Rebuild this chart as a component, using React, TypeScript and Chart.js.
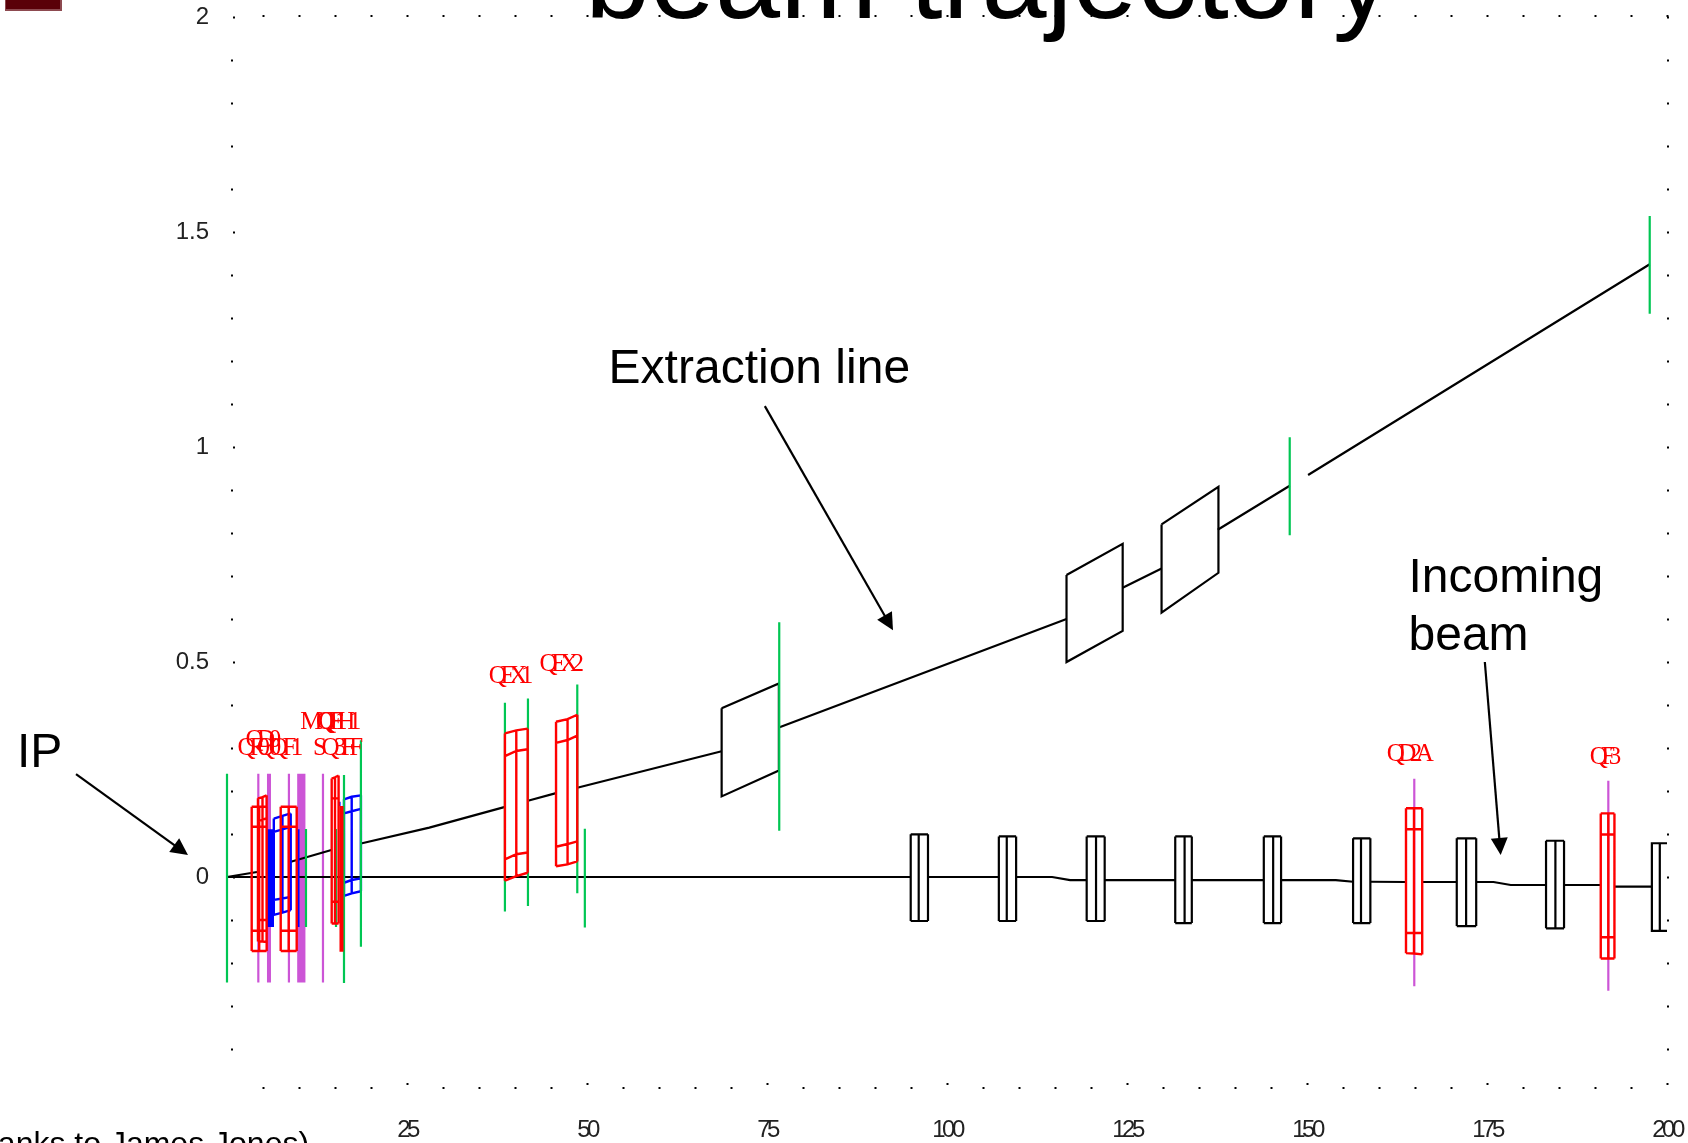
import React, { useEffect, useRef } from "react";
import { Chart, registerables } from "chart.js";

Chart.register(...registerables);

type Pt = [number, number];
type Magnet = { x: number[]; rows: number[][] };

// axis ticks
const xTickValues = [5,10,15,20,25,30,35,40,45,50,55,60,65,70,75,80,85,90,95,100,105,110,115,120,125,130,135,140,145,150,155,160,165,170,175,180,185,190,195,200];
const yTickValues = [-0.4,-0.3,-0.2,-0.1,0,0.1,0.2,0.3,0.4,0.5,0.6,0.7,0.8,0.9,1,1.1,1.2,1.3,1.4,1.5,1.6,1.7,1.8,1.9,2];

// beam lines (s, x in metres)
const extractionLine: Pt[][] = [
  [[0,0],[4.17,0.0116]],
  [[8.75,0.035],[14.5,0.063]],
  [[18.6,0.078],[28.1,0.115],[38.5,0.1625]],
  [[41.8,0.1775],[45.7,0.195]],
  [[48.65,0.2075],[68.7,0.2925]],
  [[76.65,0.3475],[116.6,0.6]],
  [[124.4,0.6725],[129.8,0.7175]],
  [[137.6,0.8075],[147.6,0.91]],
  [[150.15,0.935],[197.6,1.425]],
];
const incomingLine: Pt[][] = [
  [[0,0],[94.96,0]],
  [[97.36,0],[107.2,0]],
  [[109.6,0],[114.6,0],[117.1,-0.007],[119.4,-0.007]],
  [[121.9,-0.007],[131.7,-0.007]],
  [[134,-0.007],[144,-0.007]],
  [[146.4,-0.007],[154,-0.007],[156.4,-0.011]],
  [[158.8,-0.011],[163.75,-0.0116]],
  [[166,-0.0116],[170.8,-0.0116]],
  [[173.5,-0.0116],[175.9,-0.0116],[178.3,-0.0186],[183.2,-0.0186]],
  [[185.7,-0.0186],[190.8,-0.0186]],
  [[192.7,-0.0225],[197.9,-0.0225]],
];

// bend magnets on the extraction line: [s, top, bottom] at each end
const bendMagnets: number[][][] = [
  [[68.7,0.3925,0.1875],[76.65,0.45,0.2475]],
  [[116.6,0.7025,0.5],[124.4,0.775,0.5725]],
  [[129.8,0.82,0.615],[137.7,0.9075,0.7075]],
];

// black two-cell magnets on the incoming line
const blackMagnets: Magnet[] = [
  { x: [94.96,96.07,97.36], rows: [[0.0992,0.0992,0.0992],[-0.1023,-0.1023,-0.1023]] },
  { x: [107.2,108.3,109.6], rows: [[0.0945,0.0945,0.0945],[-0.1023,-0.1023,-0.1023]] },
  { x: [119.4,120.7,121.9], rows: [[0.0945,0.0945,0.0945],[-0.1023,-0.1023,-0.1023]] },
  { x: [131.7,133,134], rows: [[0.0945,0.0945,0.0945],[-0.107,-0.107,-0.107]] },
  { x: [144,145.3,146.4], rows: [[0.0945,0.0945,0.0945],[-0.107,-0.107,-0.107]] },
  { x: [156.4,157.5,158.8], rows: [[0.09,0.09,0.09],[-0.107,-0.107,-0.107]] },
  { x: [170.8,172.1,173.5], rows: [[0.09,0.09,0.09],[-0.114,-0.114,-0.114]] },
  { x: [183.2,184.5,185.7], rows: [[0.0844,0.0844,0.0844],[-0.1193,-0.1193,-0.1193]] },
];
const lastBlackMagnet: Pt[][] = [
  [[200,0.0786],[197.9,0.0786],[197.9,-0.125],[200,-0.125]],
  [[199,0.0786],[199,-0.125]],
];

const redMagnets: Magnet[] = [
  { x: [3.43,4.47,5.51], rows: [[0.1635,0.1635,0.1635],[0.1168,0.1168,0.1168],[-0.125,-0.125,-0.125],[-0.172,-0.172,-0.172]] },
  { x: [4.3,4.93,5.5], rows: [[0.183,0.186,0.19],[0.13,0.133,0.137],[-0.1,-0.1,-0.1],[-0.15,-0.15,-0.151]] },
  { x: [7.46,8.57,9.68], rows: [[0.1635,0.1635,0.1635],[0.1168,0.1168,0.1168],[-0.125,-0.125,-0.125],[-0.172,-0.172,-0.172]] },
  { x: [14.54,15,15.5], rows: [[0.229,0.232,0.236],[0.183,0.183,0.183],[-0.0575,-0.0575,-0.0575],[-0.108,-0.108,-0.108]] },
  { x: [38.6,40.18,41.76], rows: [[0.334,0.341,0.345],[0.281,0.293,0.297],[0.041,0.053,0.057],[-0.0086,0.0023,0.01]] },
  { x: [45.7,47.3,48.65], rows: [[0.361,0.367,0.3774],[0.312,0.3186,0.3286],[0.0705,0.0767,0.083],[0.025,0.0295,0.0363]] },
  { x: [163.75,164.86,166], rows: [[0.16,0.16,0.16],[0.111,0.111,0.111],[-0.13,-0.13,-0.13],[-0.177,-0.178,-0.18]] },
  { x: [190.8,191.85,192.7], rows: [[0.148,0.148,0.148],[0.099,0.099,0.099],[-0.1402,-0.1402,-0.1402],[-0.1895,-0.1895,-0.1895]] },
];
const blueMagnets: Magnet[] = [
  { x: [6.5,7.7,8.85], rows: [[0.136,0.142,0.148],[0.105,0.111,0.1168],[-0.053,-0.05,-0.046],[-0.088,-0.083,-0.077]] },
  { x: [16.25,17.32,18.6], rows: [[0.1807,0.1867,0.19],[0.148,0.153,0.1586],[-0.0133,-0.007,-0.003],[-0.044,-0.038,-0.033]] },
];

// vertical markers: [s, top, bottom]
const greenMarkers: number[][] = [
  [0,0.24,-0.245],[10.97,0.1116,-0.116],[15.14,0.1116,-0.116],[16.25,0.237,-0.2465],[18.6,0.318,-0.162],
  [38.6,0.405,-0.08],[41.8,0.415,-0.0675],[48.65,0.4475,-0.0375],[49.7,0.1125,-0.1175],
  [76.7,0.5925,0.1075],[147.6,1.0225,0.795],[197.6,1.5375,1.31],
];
const purpleMarkers: number[][] = [
  [4.35,0.24,-0.245],[8.6,0.24,-0.245],[9.9,0.24,-0.245],[10.18,0.24,-0.245],[10.46,0.24,-0.245],[10.74,0.24,-0.245],
  [13.33,0.24,-0.245],[164.9,0.2286,-0.254],[191.85,0.224,-0.2645],
];
const thickPurple: number[][] = [[5.83,0.24,-0.245]];
const thickBlue: number[][] = [[6.04,0.111,-0.116]];
const thinBlue: number[][] = [[9.9,0.111,-0.116],[15.6,0.175,0.165]];
const thickRed: number[][] = [[15.9,0.165,-0.174]];

// magnet names: [text, s, height, letter spacing]
const magnetLabels: [string, number, number, number][] = [
  ["QD0",4.6,0.3027,-6.5],["QF0",3.3,0.2827,-6],["Q0",5.4,0.2827,-6.5],["QF1",7.9,0.2827,-5.5],["SQ3FF",15.05,0.2827,-5.5],
  ["MQF1",13.0,0.3435,-6.5],["QFH1",15.2,0.3435,-6.5],
  ["QEX1",39.0,0.4502,-6.5],["QEX2",46.05,0.4797,-6.5],["QD2A",163.9,0.2708,-6.5],["QF3",191.0,0.2618,-6.5],
];

// slide text: [text, s, height, alignment, size]
const slideTexts: [string, number, number, CanvasTextAlign, number][] = [
  ["beam trajectory",105.7,1.998,"center",117],
  ["Extraction line",53.0,1.148,"left",48],
  ["Incoming",164.1,0.662,"left",48],
  ["beam",164.1,0.5286,"left",48],
  ["IP",-29.17,0.2558,"left",48],
  ["(thanks to James Jones)",11.4,-0.644,"right",32],
];
// callout arrows: from, to
const arrows: [Pt, Pt][] = [
  [[-20.97,0.2395],[-5.42,0.0512]],
  [[74.7,1.095],[92.5,0.574]],
  [[174.7,0.5],[176.9,0.0512]],
];

const GAP = { x: NaN, y: NaN };
const pts = (lines: Pt[][]) => lines.flatMap((l) => [...l.map(([x, y]) => ({ x, y })), GAP]);
const markers = (m: number[][]) => pts(m.map(([s, a, b]) => [[s, a], [s, b]] as Pt[]));
const magnets = (ms: Magnet[]) =>
  pts(ms.flatMap(({ x, rows }) => {
    const top = rows[0], bot = rows[rows.length - 1];
    const lines: Pt[][] = rows.map((r) => r.map((y, i) => [x[i], y] as Pt));
    x.forEach((xx, i) => lines.push([[xx, top[i]], [xx, bot[i]]]));
    return lines;
  }));
const bends = (bs: number[][][]) =>
  pts(bs.map(([[a, at, ab], [b, bt, bb]]) => [[a, at], [b, bt], [b, bb], [a, ab], [a, at]] as Pt[]));

const isMajorY = (v: number) => Math.abs(v * 2 - Math.round(v * 2)) < 1e-6;

const overlay = {
  id: "overlay",
  beforeDraw(chart: any) {
    const { x } = chart.scales;
    if (!x.__patched) {
      x.__patched = true;
      const xl = x.drawLabels;
      x.drawLabels = function (area: any) {
        chart.ctx.letterSpacing = "-3.5px";
        xl.call(x, area);
        chart.ctx.letterSpacing = "0px";
      };
    }
  },
  afterDraw(chart: any) {
    const { ctx, scales: { x, y } } = chart;
    ctx.save();
    // college crest, cut off at the slide's top edge
    ctx.fillStyle = "#8d4a50";
    ctx.fillRect(5, 0, 57, 11);
    ctx.fillStyle = "#5a0008";
    ctx.fillRect(6, 0, 54, 9);

    ctx.fillStyle = "#000";
    ctx.strokeStyle = "#000";
    ctx.lineWidth = 2.2;
    for (const [a, b] of arrows) {
      const x0 = x.getPixelForValue(a[0]), y0 = y.getPixelForValue(a[1]);
      const x1 = x.getPixelForValue(b[0]), y1 = y.getPixelForValue(b[1]);
      const t = Math.atan2(y1 - y0, x1 - x0);
      const c = Math.cos(t), s = Math.sin(t);
      ctx.beginPath();
      ctx.moveTo(x0, y0);
      ctx.lineTo(x1 - 10 * c, y1 - 10 * s);
      ctx.stroke();
      ctx.beginPath();
      ctx.moveTo(x1, y1);
      ctx.lineTo(x1 - 17 * c + 8.5 * s, y1 - 17 * s - 8.5 * c);
      ctx.lineTo(x1 - 17 * c - 8.5 * s, y1 - 17 * s + 8.5 * c);
      ctx.closePath();
      ctx.fill();
    }
    ctx.textBaseline = "alphabetic";
    for (const [text, s, h, align, size] of slideTexts) {
      ctx.font = `${size}px "Liberation Sans"`;
      ctx.textAlign = align;
      ctx.fillText(text, x.getPixelForValue(s), y.getPixelForValue(h));
    }
    ctx.fillStyle = "#ff0000";
    ctx.textAlign = "center";
    ctx.font = `25px "Liberation Serif"`;
    for (const [text, s, h, spacing] of magnetLabels) {
      ctx.letterSpacing = `${spacing}px`;
      ctx.fillText(text, x.getPixelForValue(s), y.getPixelForValue(h));
    }
    ctx.letterSpacing = "0px";
    ctx.restore();
  },
};

const line = (data: any[], color: string, width: number, order: number) => ({
  type: "scatter" as const,
  data,
  showLine: true,
  spanGaps: false,
  borderColor: color,
  backgroundColor: color,
  borderWidth: width,
  pointRadius: 0,
  pointHoverRadius: 0,
  clip: false as const,
  order,
});

const BLACK = "#000000", GREEN = "#00c653", PURPLE = "#cc55d6", RED = "#ff0000", BLUE = "#0000ff";

export default function App() {
  const ref = useRef<HTMLCanvasElement>(null);
  useEffect(() => {
    const tickBase = (len: number) => ({
      drawOnChartArea: false,
      drawTicks: true,
      tickLength: len,
      tickWidth: 2,
      tickColor: "#000",
    });
    const noPadX = (s: any, h: number) => { s.height = h; s.paddingLeft = 0; s.paddingRight = 0; };
    const noPadY = (s: any, w: number) => { s.width = w; s.paddingTop = 0; s.paddingBottom = 0; };
    const chart = new Chart(ref.current!, {
      type: "scatter",
      data: {
        datasets: [
          line(magnets(redMagnets), RED, 2.4, 1),
          line(markers(thickRed), RED, 4, 1),
          line(markers(greenMarkers), GREEN, 2.2, 2),
          line(magnets(blueMagnets), BLUE, 2.4, 3),
          line(markers(thinBlue), BLUE, 2.5, 3),
          line(markers(thickBlue), BLUE, 7, 3),
          line(pts(extractionLine), BLACK, 2.2, 4),
          line(pts(incomingLine), BLACK, 2.2, 4),
          line(bends(bendMagnets), BLACK, 2.2, 4),
          line(magnets(blackMagnets), BLACK, 2.2, 4),
          line(pts(lastBlackMagnet), BLACK, 2.2, 4),
          line(markers(purpleMarkers), PURPLE, 2.2, 5),
          line(markers(thickPurple), PURPLE, 4, 5),
        ] as any,
      },
      plugins: [overlay],
      options: {
        responsive: false,
        animation: false,
        events: [],
        layout: { padding: 0 },
        plugins: { legend: { display: false }, tooltip: { enabled: false }, title: { display: false } },
        scales: {
          x: {
            type: "linear",
            position: "bottom",
            min: 1.111,
            max: 200,
            afterBuildTicks: (s: any) => { s.ticks = xTickValues.map((value) => ({ value })); },
            afterFit: (s: any) => noPadX(s, 1143 - 1083),
            border: { display: false },
            grid: {
              ...tickBase(6),
              tickBorderDash: (c: any) => (c.tick && c.tick.value % 25 === 0 ? [2, 100] : [0, 4, 2, 100]),
            },
            ticks: {
              autoSkip: false,
              maxRotation: 0,
              padding: 27,
              color: "#222",
              font: { family: '"Liberation Sans"', size: 24 },
              callback: (v: any) => (v % 25 === 0 ? String(v) : ""),
            },
          },
          x2: {
            type: "linear",
            axis: "x",
            position: "top",
            min: 1.111,
            max: 200,
            afterBuildTicks: (s: any) => { s.ticks = xTickValues.map((value) => ({ value })); },
            afterFit: (s: any) => noPadX(s, 17),
            border: { display: false },
            grid: tickBase(2),
            ticks: { display: false, autoSkip: false },
          },
          y: {
            type: "linear",
            position: "left",
            min: -0.479,
            max: 2,
            afterBuildTicks: (s: any) => { s.ticks = yTickValues.map((value) => ({ value })); },
            afterFit: (s: any) => noPadY(s, 235),
            border: { display: false },
            grid: {
              ...tickBase(4),
              tickBorderDash: (c: any) => (c.tick && isMajorY(c.tick.value) ? [0, 2, 2, 100] : [2, 100]),
            },
            ticks: {
              autoSkip: false,
              padding: 22,
              color: "#222",
              font: { family: '"Liberation Sans"', size: 24 },
              callback: (v: any) => (isMajorY(v) && v >= 0 ? String(v) : ""),
            },
          },
          y2: {
            type: "linear",
            axis: "y",
            position: "right",
            min: -0.479,
            max: 2,
            afterBuildTicks: (s: any) => { s.ticks = yTickValues.map((value) => ({ value })); },
            afterFit: (s: any) => noPadY(s, 21),
            border: { display: false },
            grid: tickBase(2),
            ticks: { display: false, autoSkip: false },
          },
        },
      } as any,
    });
    return () => chart.destroy();
  }, []);
  return (
    <canvas
      ref={ref}
      width={1688}
      height={1143}
      style={{ position: "fixed", left: 0, top: 0, width: 1688, height: 1143, display: "block" }}
    />
  );
}
